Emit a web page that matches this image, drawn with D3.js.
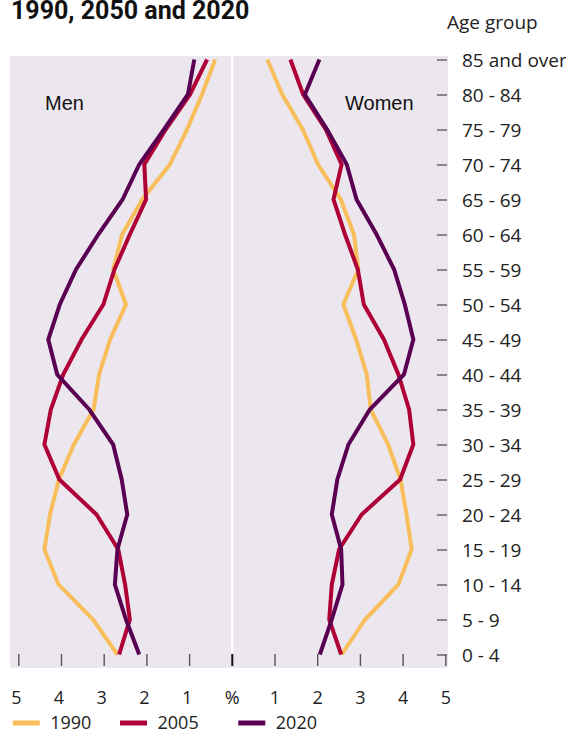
<!DOCTYPE html>
<html>
<head>
<meta charset="utf-8">
<script src="https://cdn.jsdelivr.net/npm/d3@7/dist/d3.min.js"></script>
<style>
  html, body { margin: 0; padding: 0; background: #ffffff; }
  svg { display: block; }
</style>
</head>
<body>
<svg id="chart" width="566" height="733"></svg>
<script>
// ---------- DATA ----------
const ageGroups = ["0 - 4","5 - 9","10 - 14","15 - 19","20 - 24","25 - 29","30 - 34","35 - 39","40 - 44","45 - 49","50 - 54","55 - 59","60 - 64","65 - 69","70 - 74","75 - 79","80 - 84","85 and over"];
const years = ["1990", "2005", "2020"];
const men1990   = [2.69, 3.26, 4.07, 4.40, 4.27, 4.06, 3.71, 3.25, 3.12, 2.86, 2.49, 2.79, 2.58, 2.11, 1.46, 1.06, 0.71, 0.40];
const men2005   = [2.65, 2.40, 2.51, 2.67, 3.18, 4.05, 4.40, 4.25, 3.96, 3.53, 3.02, 2.76, 2.40, 2.02, 2.06, 1.56, 0.99, 0.59];
const men2020   = [2.18, 2.49, 2.75, 2.69, 2.46, 2.59, 2.79, 3.35, 4.10, 4.31, 4.04, 3.66, 3.14, 2.57, 2.18, 1.60, 1.04, 0.89];
const women1990 = [2.56, 3.11, 3.89, 4.20, 4.08, 3.94, 3.65, 3.24, 3.15, 2.90, 2.60, 2.95, 2.85, 2.54, 2.01, 1.65, 1.17, 0.82];
const women2005 = [2.55, 2.27, 2.33, 2.50, 3.03, 3.93, 4.24, 4.14, 3.89, 3.55, 3.08, 2.94, 2.64, 2.37, 2.56, 2.19, 1.66, 1.36];
const women2020 = [2.05, 2.33, 2.58, 2.55, 2.33, 2.46, 2.72, 3.22, 4.02, 4.24, 4.04, 3.79, 3.38, 2.91, 2.68, 2.22, 1.70, 2.04];
const axisTicks = [-5, -4, -3, -2, -1, 0, 1, 2, 3, 4, 5];
const title = "1990, 2050 and 2020";

// ---------- STYLE ----------
const colors = { "1990": "#F8BE5B", "2005": "#AE0037", "2020": "#5A0052" };
const bg = "#ECE7EF";
const labelFont = "'Open Sans', sans-serif";

const svg = d3.select("#chart");

// layout
const plotLeft = 10, plotRight = 448, plotTop = 56, plotBottom = 668;
const center = 232.3, unit = 42.7;

const x = d3.scaleLinear().domain([-5, 5]).range([center - 5 * unit, center + 5 * unit]);
const y = d3.scalePoint().domain(ageGroups).range([654.5, 59.5]);

// title
svg.append("text").attr("x", 11).attr("y", 19)
  .attr("font-family", "Roboto, sans-serif").attr("font-weight", 700)
  .attr("font-size", 25).attr("fill", "#111").text(title);

svg.append("text").attr("x", 447).attr("y", 29)
  .attr("font-family", labelFont).attr("font-size", 19).attr("fill", "#222")
  .text("Age group");

// background
svg.append("rect").attr("x", plotLeft).attr("y", plotTop)
  .attr("width", plotRight - plotLeft).attr("height", plotBottom - plotTop)
  .attr("fill", bg);

// center white line
svg.append("line").attr("x1", x(0)).attr("x2", x(0))
  .attr("y1", plotTop).attr("y2", 654)
  .attr("stroke", "#ffffff").attr("stroke-width", 2);

// bottom ticks
svg.append("g").selectAll("line").data(axisTicks).join("line")
  .attr("x1", d => x(d)).attr("x2", d => x(d))
  .attr("y1", 654).attr("y2", 666)
  .attr("stroke", d => d === 0 ? "#111" : "#555")
  .attr("stroke-width", d => d === 0 ? 2 : 1.4);

// bottom labels
svg.append("g").selectAll("text").data(axisTicks).join("text")
  .attr("x", d => x(d) + (d < 0 ? -2.5 : 0)).attr("y", 703.5)
  .attr("text-anchor", "middle")
  .attr("font-family", labelFont).attr("font-size", 18).attr("fill", "#222")
  .text(d => d === 0 ? "%" : Math.abs(d));

// right age axis
const yAxis = d3.axisRight(y).tickSize(10).tickPadding(15);
const ag = svg.append("g").attr("transform", "translate(437,0)").call(yAxis);
ag.select(".domain").remove();
ag.selectAll(".tick line").attr("stroke", "#666").attr("stroke-width", 1.5);
ag.selectAll(".tick text").attr("font-family", labelFont).attr("font-size", 19)
  .attr("fill", "#222").attr("dy", "0.36em");

// lines
const series = [
  { side: -1, year: "1990", values: men1990 },
  { side: -1, year: "2005", values: men2005 },
  { side: -1, year: "2020", values: men2020 },
  { side: 1, year: "1990", values: women1990 },
  { side: 1, year: "2005", values: women2005 },
  { side: 1, year: "2020", values: women2020 }
];
const order = { "1990": 0, "2005": 1, "2020": 2 };
series.sort((a, b) => order[a.year] - order[b.year]);

const line = d3.line().x(d => x(d.v)).y(d => y(d.age));
svg.append("g").selectAll("path").data(series).join("path")
  .attr("d", s => line(s.values.map((v, i) => ({ v: s.side * v, age: ageGroups[i] }))))
  .attr("fill", "none")
  .attr("stroke", s => colors[s.year])
  .attr("stroke-width", 4)
  .attr("stroke-linejoin", "miter");

// panel labels
svg.append("text").attr("x", 45).attr("y", 110)
  .attr("font-family", "'Liberation Sans', Arial, sans-serif").attr("font-size", 20)
  .attr("fill", "#111").text("Men");
svg.append("text").attr("x", 345).attr("y", 110)
  .attr("font-family", "'Liberation Sans', Arial, sans-serif").attr("font-size", 20)
  .attr("fill", "#111").text("Women");

// legend
const legendX = [12.7, 120, 238.3];
const lg = svg.append("g").selectAll("g").data(years).join("g")
  .attr("transform", (d, i) => `translate(${legendX[i]},723)`);
lg.append("line").attr("x1", 0).attr("x2", 27).attr("y1", 0).attr("y2", 0)
  .attr("stroke", d => colors[d]).attr("stroke-width", 5);
lg.append("text").attr("x", 37.5).attr("y", 6.3)
  .attr("font-family", labelFont).attr("font-size", 18).attr("fill", "#222")
  .text(d => d);
</script>
</body>
</html>
